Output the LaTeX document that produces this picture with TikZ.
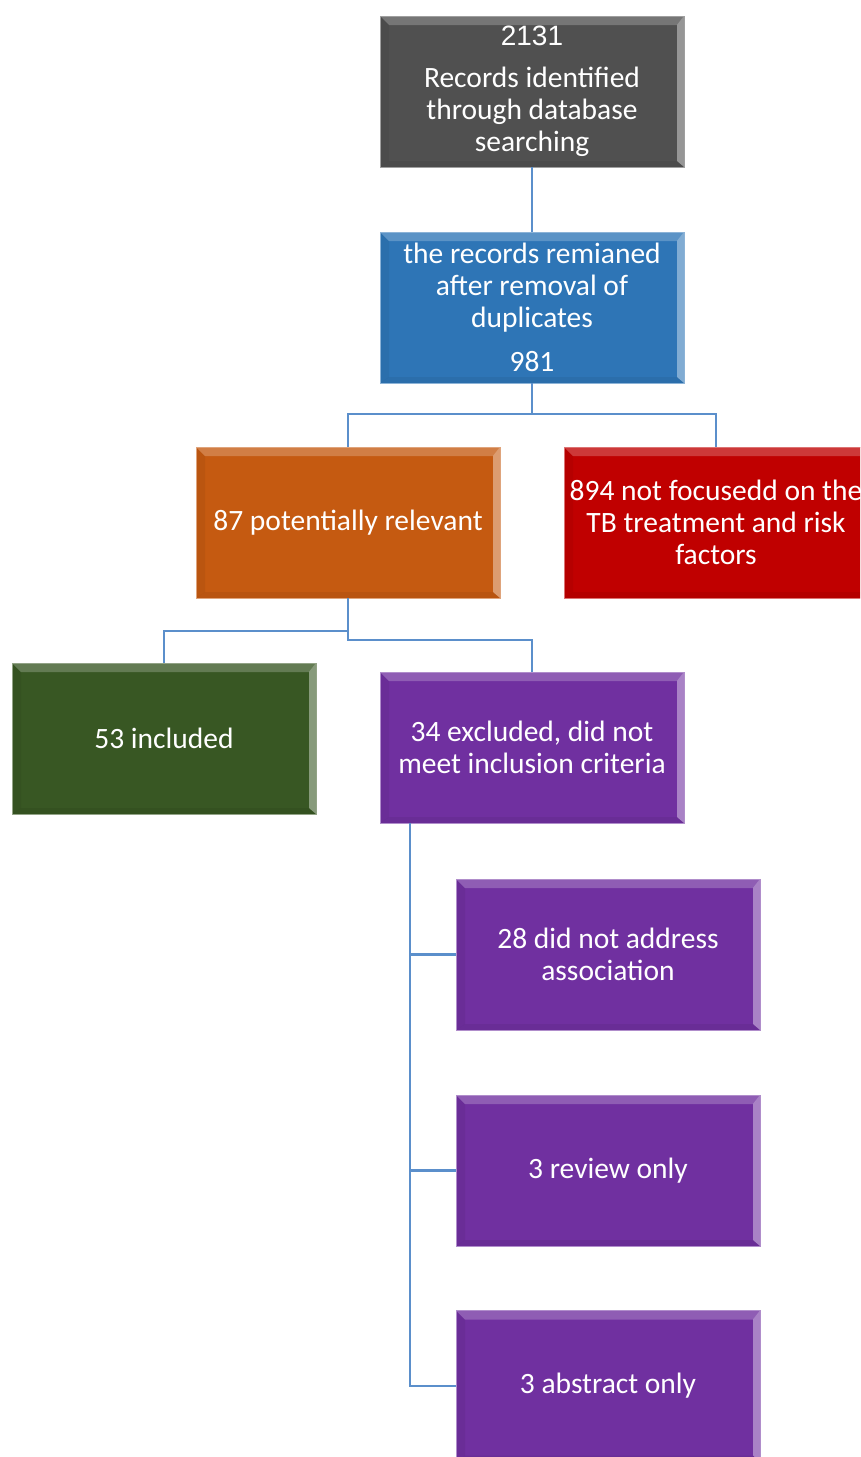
\documentclass[tikz,border=0pt]{standalone}
\usepackage{fontspec}
\setmainfont{Carlito}
\newfontfamily\arialf{Liberation Sans}
\definecolor{cgray}{HTML}{505050}
\definecolor{cblue}{HTML}{2E75B6}
\definecolor{corange}{HTML}{C55A11}
\definecolor{cred}{HTML}{C00000}
\definecolor{cgreen}{HTML}{385723}
\definecolor{cpurple}{HTML}{7030A0}
\definecolor{cline}{HTML}{5B8FCB}
\tikzset{
  bevbox/.style={rectangle, fill=#1, draw=#1!55!white, line width=0.8pt,
    minimum width=304pt, minimum height=151pt, inner sep=0pt, outer sep=0pt,
    text=white, align=center,
    font=\fontsize{29.5}{32}\selectfont,
    path picture={
      \fill[white,opacity=0.22] (path picture bounding box.north west) -- (path picture bounding box.north east)
        -- ([xshift=-7pt,yshift=-9pt]path picture bounding box.north east) -- ([xshift=9pt,yshift=-9pt]path picture bounding box.north west) -- cycle;
      \fill[white,opacity=0.40] (path picture bounding box.north east) -- (path picture bounding box.south east)
        -- ([xshift=-7pt,yshift=6pt]path picture bounding box.south east) -- ([xshift=-7pt,yshift=-9pt]path picture bounding box.north east) -- cycle;
      \fill[black,opacity=0.05] (path picture bounding box.north west) -- (path picture bounding box.south west)
        -- ([xshift=9pt,yshift=6pt]path picture bounding box.south west) -- ([xshift=9pt,yshift=-9pt]path picture bounding box.north west) -- cycle;
      \fill[black,opacity=0.06] (path picture bounding box.south west) -- (path picture bounding box.south east)
        -- ([xshift=-7pt,yshift=6pt]path picture bounding box.south east) -- ([xshift=9pt,yshift=6pt]path picture bounding box.south west) -- cycle;
    }},
  conn/.style={draw=cline, line width=2.6pt}
}
\begin{document}
\begin{tikzpicture}[x=1pt,y=-1pt]
\useasboundingbox (0,0) rectangle (860,1457);
\clip (0,0) rectangle (860,1457);
\fill[white] (0,0) rectangle (860,1457);

\node[bevbox=cgray] (top) at (532,91.5) {{\arialf\fontsize{28}{32}\selectfont 2131}\\[10pt]Records identified\\through database\\searching};
\node[bevbox=cblue] (blue) at (532,307.5) {the records remianed\\after removal of\\duplicates\\[12pt]981};
\node[bevbox=corange] (orange) at (348,522.5) {87 potentially relevant};
\node[bevbox=cred] (red) at (716,522.5) {894 not focusedd on the\\TB treatment and risk\\factors};
\node[bevbox=cgreen] (green) at (164,738.5) {53 included};
\node[bevbox=cpurple] (p34) at (532,747.5) {34 excluded, did not\\meet inclusion criteria};
\node[bevbox=cpurple] (p28) at (608,954.5) {28 did not address\\association};
\node[bevbox=cpurple] (p3r) at (608,1170.5) {3 review only};
\node[bevbox=cpurple] (p3a) at (608,1386) {3 abstract only};

\draw[conn] (top.south) -- (blue.north);
\draw[conn] (blue.south) -- ++(0,31) -| (orange.north);
\draw[conn] (blue.south) -- ++(0,31) -| (red.north);
\draw[conn] (orange.south) -- ++(0,33) -| (green.north);
\draw[conn] (orange.south) -- ++(0,42) -| (p34.north);
\coordinate (pv) at ([xshift=30pt]p34.south west);
\draw[conn] (pv) |- (p28.west);
\draw[conn] (pv) |- (p3r.west);
\draw[conn] (pv) |- (p3a.west);
\end{tikzpicture}
\end{document}
